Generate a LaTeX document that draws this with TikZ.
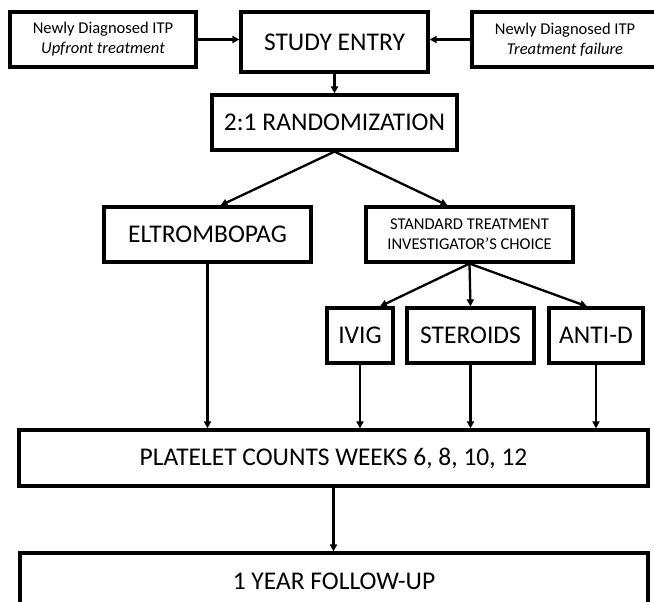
\documentclass[tikz,border=0pt]{standalone}
\usepackage{fontspec}
\setmainfont{Carlito}
\usetikzlibrary{arrows.meta,positioning}
\tikzset{
  box/.style={draw=black, line width=3.2pt, rectangle, inner sep=0pt, align=center, font=\fontsize{25.5}{30}\selectfont, text=black},
  smallbox/.style={box, font=\fontsize{16.5}{20}\selectfont},
  arr/.style={line width=2.3pt, -{Triangle[length=7pt,width=7pt]}}
}
\begin{document}
\begin{tikzpicture}[x=1pt,y=-1pt]
\useasboundingbox (0,0) rectangle (654,602);
\clip (0,0) rectangle (654,602);
\fill[white] (0,0) rectangle (654,602);
% nodes
\node[smallbox, minimum width=186pt, minimum height=55pt] (left) at (103,39.5) {Newly Diagnosed ITP\\\textit{Upfront treatment}};
\node[box, minimum width=187pt, minimum height=60pt] (entry) at (334.5,42) {STUDY ENTRY};
\node[smallbox, minimum width=186pt, minimum height=55pt] (right) at (565,39.5) {Newly Diagnosed ITP\\\textit{Treatment failure}};
\node[box, minimum width=245pt, minimum height=55pt] (rand) at (334.5,122.5) {2:1 RANDOMIZATION};
\node[box, minimum width=207pt, minimum height=55pt] (eltro) at (207.5,234.5) {ELTROMBOPAG};
\node[smallbox, minimum width=207pt, minimum height=55pt] (std) at (469.5,234.5) {STANDARD TREATMENT\\INVESTIGATOR'S CHOICE};
\node[box, minimum width=66pt, minimum height=55pt] (ivig) at (360,335.5) {IVIG};
\node[box, minimum width=127pt, minimum height=55pt] (ster) at (470.5,335.5) {STEROIDS};
\node[box, minimum width=94pt, minimum height=55pt] (antid) at (596,335.5) {ANTI-D};
\node[box, minimum width=629pt, minimum height=56pt] (plat) at (333.5,458) {PLATELET COUNTS WEEKS 6, 8, 10, 12};
\node[box, minimum width=628pt, minimum height=56pt] (fu) at (334,581) {1 YEAR FOLLOW-UP};
% connectors
\draw[arr] (left.east) -- (entry.west |- left.east);
\draw[arr] (right.west) -- (entry.east |- right.west);
\draw[arr] (entry.south) -- (rand.north);
\draw[arr] (rand.south) -- ([xshift=13pt]eltro.north);
\draw[arr] (rand.south) -- ([xshift=-22pt]std.north);
\draw[arr] (std.south) -- ([xshift=20pt]ivig.north);
\draw[arr] (std.south) -- (ster.north);
\draw[arr] (std.south) -- ([xshift=-9pt]antid.north);
\draw[arr] (eltro.south) -- (eltro.south |- plat.north);
\draw[arr] (ivig.south) -- (ivig.south |- plat.north);
\draw[arr] (ster.south) -- (ster.south |- plat.north);
\draw[arr] (antid.south) -- (antid.south |- plat.north);
\draw[arr] (plat.south) -- (plat.south |- fu.north);
\end{tikzpicture}
\end{document}
